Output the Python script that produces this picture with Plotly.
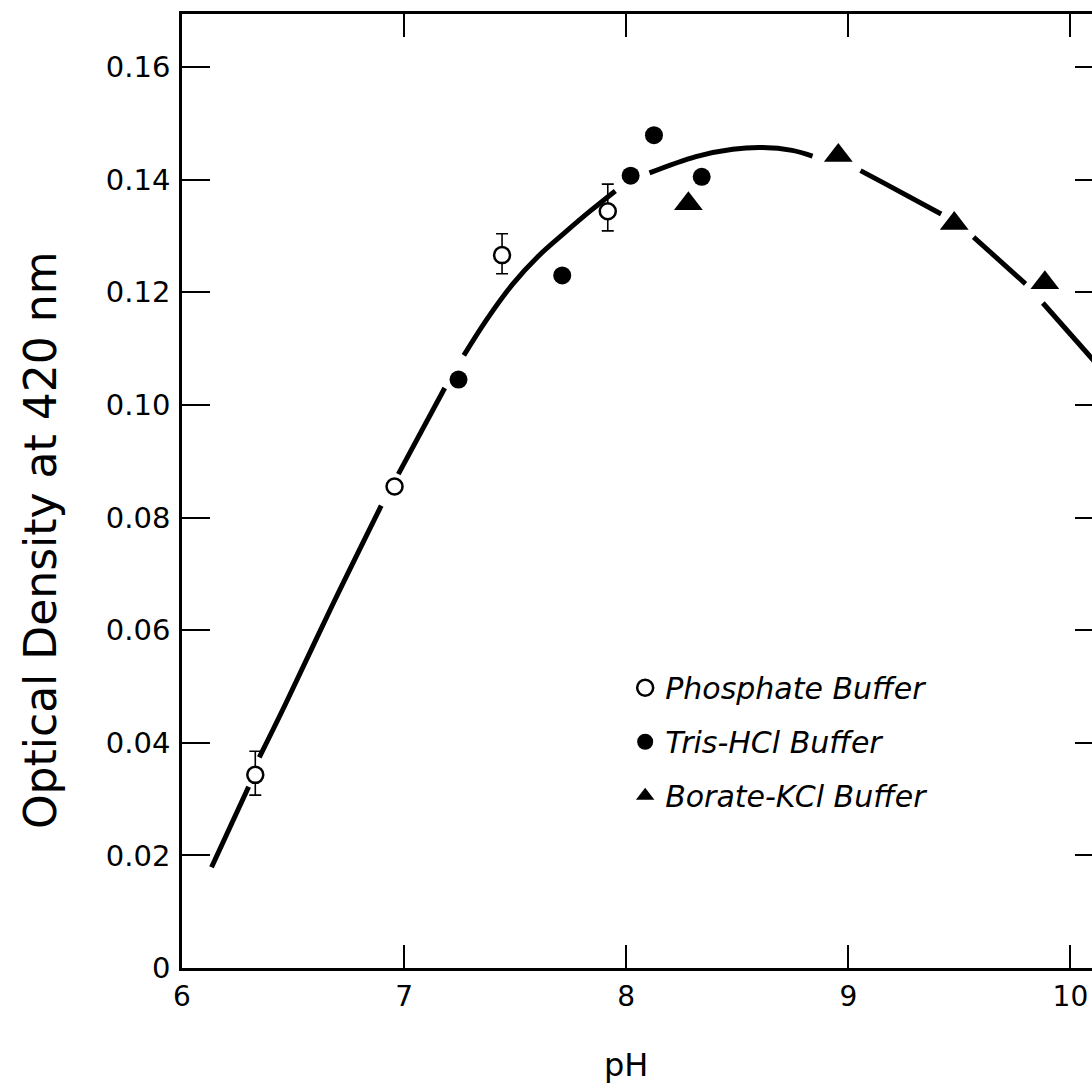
import plotly.graph_objects as go

# ---- data ----
phos_ph = [6.33, 6.957, 7.441, 7.917]
phos_od = [0.0343, 0.0855, 0.1266, 0.1344]
phos_err_plus = [0.0042, 0.0, 0.0038, 0.0048]
phos_err_minus = [0.0036, 0.0, 0.0033, 0.0035]

tris_ph = [7.245, 7.712, 8.02, 8.125, 8.34]
tris_od = [0.1045, 0.1230, 0.1407, 0.1479, 0.1405]

borate_ph = [8.28, 8.955, 9.477, 9.885]
borate_od = [0.1357, 0.1443, 0.1322, 0.1217]

# fitted curve (broken where it passes the symbols)
curve_ph = [6.133, 6.300, None,
            6.348, 6.464, 6.678, 6.897, None,
            6.974, 7.183, None,
            7.269, 7.371, 7.488, 7.604, 7.721, 7.837, 7.951, None,
            8.105, 8.314, 8.480, 8.614, 8.747, 8.839, None,
            9.055, 9.165, 9.418, None,
            9.564, 9.798, None,
            9.876, 10.138]
curve_od = [0.0179, 0.0322, None,
            0.0374, 0.0467, 0.0645, 0.0821, None,
            0.0877, 0.1030, None,
            0.1088, 0.1151, 0.1214, 0.1264, 0.1305, 0.1344, 0.1380, None,
            0.1412, 0.1441, 0.1454, 0.1457, 0.1452, 0.1442, None,
            0.1416, 0.1393, 0.1339, None,
            0.1298, 0.1215, None,
            0.1181, 0.1064]

x_tickvals = [6, 7, 8, 9, 10]
x_ticktext = ["6", "7", "8", "9", "10"]
y_tickvals = [0, 0.02, 0.04, 0.06, 0.08, 0.10, 0.12, 0.14, 0.16]
y_ticktext = ["0", "0.02", "0.04", "0.06", "0.08", "0.10", "0.12", "0.14", "0.16"]

FONT = "DejaVu Sans"
W, H = 1092, 1090
L, T, B, R = 182, 14, 122, 0

fig = go.Figure()

fig.add_trace(go.Scatter(
    x=curve_ph, y=curve_od, mode="lines",
    line=dict(color="black", width=5, shape="spline", smoothing=1.0),
    connectgaps=False, showlegend=False, hoverinfo="skip"))

fig.add_trace(go.Scatter(
    x=phos_ph, y=phos_od, mode="markers", name="Phosphate Buffer",
    legendgroup="a",
    marker=dict(symbol="circle", size=16, color="white",
                line=dict(color="black", width=2.5)),
    error_y=dict(type="data", symmetric=False, array=phos_err_plus,
                 arrayminus=phos_err_minus, color="black",
                 thickness=1.6, width=6)))

fig.add_trace(go.Scatter(
    x=tris_ph, y=tris_od, mode="markers", name="Tris-HCl Buffer",
    legendgroup="b",
    marker=dict(symbol="circle", size=18, color="black")))

fig.add_trace(go.Scatter(
    x=borate_ph, y=borate_od, mode="markers", name="Borate-KCl Buffer",
    legendgroup="c",
    marker=dict(symbol="triangle-up", size=25, color="black")))

# invisible trace carrying the right-hand tick axis
fig.add_trace(go.Scatter(x=[], y=[], yaxis="y2", showlegend=False,
                         hoverinfo="skip"))

x_max = 6 + (W - L - R) / 222.1
y_max = (H - B - T) / 5631.0

fig.update_layout(
    width=W, height=H,
    margin=dict(l=L, r=R, t=T, b=B, pad=0),
    paper_bgcolor="white", plot_bgcolor="white",
    font=dict(family=FONT, color="black", size=28),
    xaxis=dict(range=[6, x_max], tickvals=x_tickvals, ticktext=x_ticktext,
               showgrid=False, zeroline=False,
               showline=True, linecolor="black", linewidth=2.5,
               mirror="ticks", ticks="inside", ticklen=23, tickwidth=2,
               tickcolor="black", tickfont=dict(family=FONT, size=28),
               ticklabelstandoff=2),
    yaxis=dict(range=[0, y_max], tickvals=y_tickvals, ticktext=y_ticktext,
               showgrid=False, zeroline=False,
               showline=True, linecolor="black", linewidth=2.5,
               ticks="inside", ticklen=28, tickwidth=1.5, tickcolor="black",
               tickfont=dict(family=FONT, size=29), ticklabelstandoff=3),
    yaxis2=dict(overlaying="y", side="right", anchor="x", matches="y",
                range=[0, y_max], tickvals=y_tickvals, showticklabels=False,
                showgrid=False, zeroline=False, showline=False,
                ticks="inside", ticklen=17, tickwidth=1.5, tickcolor="black"),
    legend=dict(x=0.487, y=0.321, xanchor="left", yanchor="top",
                bgcolor="rgba(0,0,0,0)", borderwidth=0,
                traceorder="grouped", tracegroupgap=12,
                font=dict(family=FONT, size=30, style="italic"),
                itemsizing="trace"),
    annotations=[
        dict(text="Optical Density at 420 nm", xref="paper", yref="paper",
             x=-0.156, y=0.4486, xanchor="center", yanchor="middle",
             textangle=-90, showarrow=False,
             font=dict(family=FONT, size=44)),
        dict(text="pH", xref="paper", yref="paper",
             x=0.488, y=-0.102, xanchor="center", yanchor="middle",
             showarrow=False, font=dict(family=FONT, size=32)),
    ],
)

fig.write_html("out.html")
